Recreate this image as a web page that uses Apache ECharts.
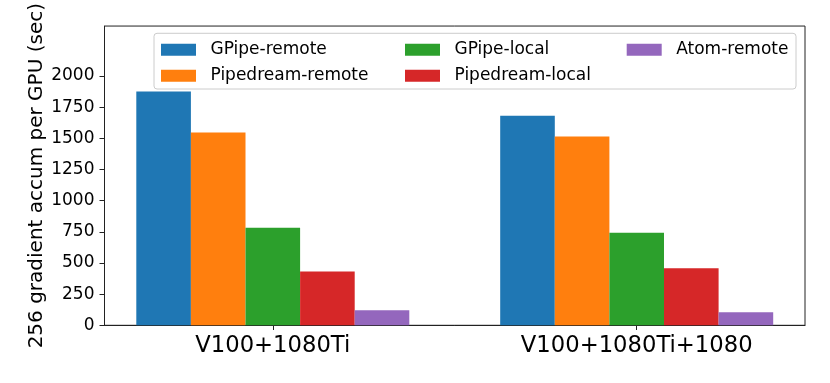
<!DOCTYPE html>
<html>
<head>
<meta charset="utf-8">
<script src="https://cdn.jsdelivr.net/npm/echarts@6/dist/echarts.min.js"></script>
<style>
  html, body { margin: 0; padding: 0; background: #fff; }
  #main { width: 830px; height: 383px; }
</style>
</head>
<body>
<div id="main"></div>
<script>
// data
var categories = ['V100+1080Ti', 'V100+1080Ti+1080'];
var seriesNames = ['GPipe-remote', 'Pipedream-remote', 'GPipe-local', 'Pipedream-local', 'Atom-remote'];
var gpipeRemote = [1875, 1680];
var pipedreamRemote = [1547, 1515];
var gpipeLocal = [783, 743];
var pipedreamLocal = [431, 458];
var atomRemote = [120, 104];
var yTicks = [0, 250, 500, 750, 1000, 1250, 1500, 1750, 2000];
var colors = ['#1f77b4', '#ff7f0e', '#2ca02c', '#d62728', '#9467bd'];

var values = [gpipeRemote, pipedreamRemote, gpipeLocal, pipedreamLocal, atomRemote];
var FONT = 'DejaVu Sans';

// 基于准备好的dom，初始化echarts实例
var myChart = echarts.init(document.getElementById('main'));

var series = seriesNames.map(function (name, i) {
  return {
    name: name,
    type: 'bar',
    barWidth: 54.6,
    barGap: '0%',
    itemStyle: { color: colors[i] },
    data: values[i].map(function (v, j) { return [j, v]; })
  };
});

function legendCol(names, left) {
  return {
    orient: 'vertical',
    left: left,
    top: 41.3,
    padding: 0,
    itemWidth: 35,
    itemHeight: 12,
    itemGap: 9,
    icon: 'rect',
    data: names,
    selectedMode: false,
    textStyle: { fontFamily: FONT, fontSize: 17, color: '#000', lineHeight: 12, padding: [0, 0, 0, 9.5] }
  };
}

myChart.setOption({
  animation: false,
  backgroundColor: '#fff',
  color: colors,
  grid: {
    left: 104.5, right: 25, top: 24.7, bottom: 57.7,
    show: true, borderColor: '#222', borderWidth: 1
  },
  legend: [
    legendCol(['GPipe-remote', 'Pipedream-remote'], 161),
    legendCol(['GPipe-local', 'Pipedream-local'], 405),
    legendCol(['Atom-remote'], 626.7)
  ],
  graphic: [{
    type: 'rect',
    z: 1,
    shape: { x: 154, y: 33.3, width: 642, height: 55.7, r: 3 },
    style: { fill: 'rgba(255,255,255,0.8)', stroke: '#cccccc', lineWidth: 1 }
  }],
  xAxis: {
    type: 'value',
    min: -0.4625,
    max: 1.4625,
    splitLine: { show: false },
    axisLine: { onZero: false, lineStyle: { color: '#222', width: 1 } },
    axisTick: { show: true, length: 4.7, lineStyle: { color: '#222' }, customValues: [0, 1] },
    axisLabel: {
      customValues: [0, 1],
      formatter: function (v) { return categories[Math.round(v)]; },
      fontFamily: FONT, fontSize: 22.7, color: '#000', margin: 9
    }
  },
  yAxis: {
    type: 'value',
    min: 0,
    max: 2400,
    name: '256 gradient accum per GPU (sec)',
    nameLocation: 'middle',
    nameGap: 58,
    nameMoveOverlap: false,
    nameTextStyle: { fontFamily: FONT, fontSize: 20, color: '#000' },
    splitLine: { show: false },
    axisLine: { show: true, onZero: false, lineStyle: { color: '#222', width: 1 } },
    axisTick: { show: true, length: 5, lineStyle: { color: '#222' }, customValues: yTicks },
    axisLabel: {
      customValues: yTicks,
      formatter: function (v) { return String(v); },
      fontFamily: FONT, fontSize: 17, color: '#000', margin: 10
    }
  },
  series: series
});
</script>
</body>
</html>
